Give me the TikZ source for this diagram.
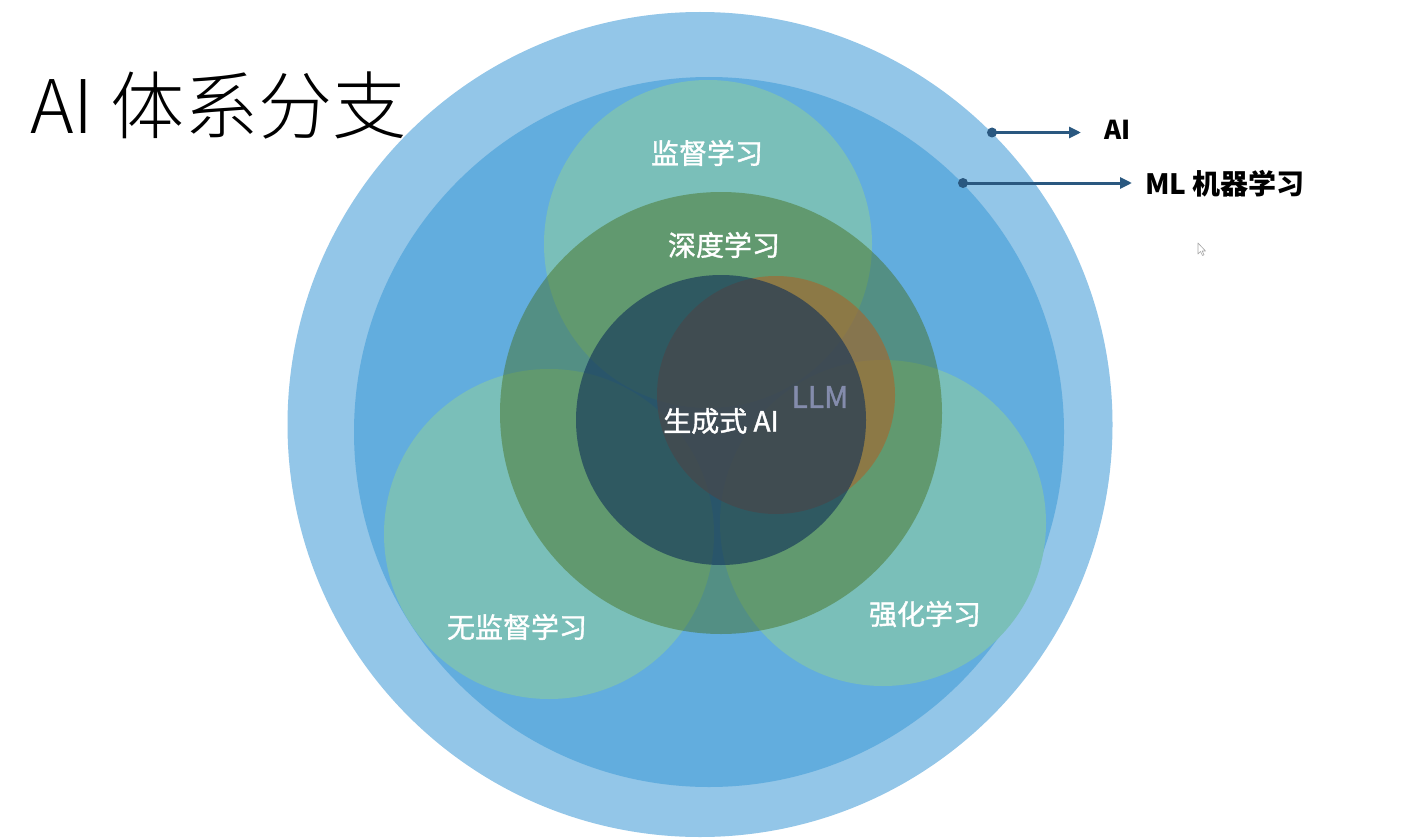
\documentclass[tikz,border=0pt]{standalone}
\usepackage{fontspec}
\setmainfont{Noto Sans CJK SC}
\newfontfamily\labelfont{Noto Sans CJK SC}[FakeBold=1.3]
\IfFontExistsTF{Noto Sans CJK SC Light}{\newfontfamily\titlefont{Noto Sans CJK SC Light}}{\newfontfamily\titlefont{Noto Sans CJK SC}}
\usetikzlibrary{arrows.meta}
\definecolor{aiblue}{RGB}{147,198,232}
\definecolor{mlblue}{RGB}{98,173,222}
\definecolor{subteal}{RGB}{122,191,185}
\definecolor{dlgreen}{RGB}{65,105,14}
\definecolor{llmorange}{RGB}{169,101,43}
\definecolor{gennavy}{RGB}{14,47,89}
\definecolor{llmtext}{RGB}{132,140,172}
\definecolor{arrowblue}{RGB}{42,88,128}
\begin{document}
\begin{tikzpicture}[x=1pt,y=-1pt,
  disc/.style={circle, inner sep=0pt, outer sep=0pt, draw=none, minimum size=#1},
  lbl/.style={text=white, font=\labelfont\fontsize{28}{30}\selectfont, inner sep=0pt},
  pointer/.style={draw=arrowblue, line width=3pt, -{Triangle[length=12pt,width=11pt]}},
]
\useasboundingbox (0,0) rectangle (1402,840);
\fill[white] (0,0) rectangle (1402,840);

% circles
\node[disc=825pt, fill=aiblue] (ai) at (700,424.5) {};
\node[disc=710pt, fill=mlblue] (ml) at (709,432) {};
\node[disc=328pt, fill=subteal] (sup) at (708,244) {};
\node[disc=330pt, fill=subteal] (unsup) at (549,534) {};
\node[disc=326pt, fill=subteal] (rl) at (883,523) {};
\node[disc=442pt, fill=dlgreen, fill opacity=0.43] (dl) at (721,413) {};
\node[disc=238pt, fill=llmorange, fill opacity=0.6] (llm) at (776,395) {};
\node[disc=290pt, fill=gennavy, fill opacity=0.6] (gen) at (721,420) {};

% labels
\node[lbl] (suplbl) at (707,153) {监督学习};
\node[lbl] (dllbl) at (724,245) {深度学习};
\node[lbl] (genlbl) at (721,421) {生成式 AI};
\node[lbl, text=llmtext, font=\labelfont\fontsize{30}{32}\selectfont] (llmlbl) at (820,397) {LLM};
\node[lbl] (unsuplbl) at (517,627) {无监督学习};
\node[lbl] (rllbl) at (925,614) {强化学习};

% title
\node[anchor=base west, inner sep=0pt, font=\titlefont\fontsize{74}{80}\selectfont] (title) at (30,134) {AI 体系分支};

% legend
\node[anchor=west, inner sep=0pt, font=\bfseries\fontsize{26}{28}\selectfont] (ailbl) at (1104,130) {AI};
\node[anchor=west, inner sep=0pt, font=\bfseries\fontsize{28}{30}\selectfont] (mllbl) at (1145,184) {ML 机器学习};
\coordinate (aidot) at (992,132.5);
\coordinate (aitip) at (1081,132.5);
\coordinate (mldot) at (963,183);
\coordinate (mltip) at (1132,183);
\draw[pointer] (aidot) -- (aitip);
\draw[pointer] (mldot) -- (mltip);
\fill[arrowblue] (aidot) circle (5pt);
\fill[arrowblue] (mldot) circle (5pt);

% mouse pointer
\draw[gray!70, line width=0.6pt, fill=white, line join=round]
  (1198,243) -- (1198,254) -- (1200.5,251.5) -- (1202.5,255.5) -- (1204,254.8) -- (1202.2,251) -- (1205.5,251) -- cycle;
\end{tikzpicture}
\end{document}
